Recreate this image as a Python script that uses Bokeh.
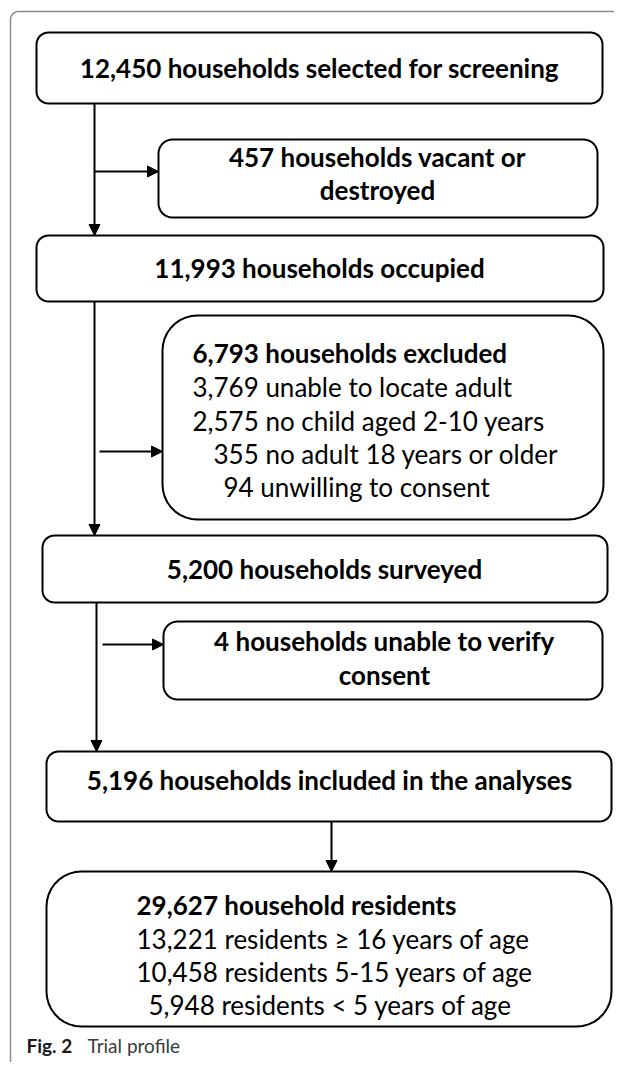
import numpy as np
from bokeh.plotting import figure
from bokeh.models import Range1d, ColumnDataSource, Arrow, NormalHead
from bokeh.core.properties import value
from bokeh.embed import file_html
from bokeh.resources import INLINE

# ---- content (text of the flow chart) ----
box_titles = [
    "12,450 households selected for screening",
    "457 households vacant or",
    "destroyed",
    "11,993 households occupied",
    "6,793 households excluded",
    "5,200 households surveyed",
    "4 households unable to verify",
    "consent",
    "5,196 households included in the analyses",
    "29,627 household residents",
]
excluded_lines = [
    "3,769 unable to locate adult",
    "2,575 no child aged 2-10 years",
    "355 no adult 18 years or older",
    "94 unwilling to consent",
]
resident_lines = [
    "13,221 residents \u2265 16 years of age",
    "10,458 residents 5-15 years of age",
    "5,948 residents < 5 years of age",
]
caption_bold = "Fig. 2"
caption_text = "Trial profile"

FONT = value("Lato")
W, H = 614, 1062
X0, Y0 = 1, 1

p = figure(width=W, height=H, output_backend="svg", toolbar_location=None,
           x_range=Range1d(X0, X0 + W), y_range=Range1d(Y0 + H, Y0),
           min_border=0, background_fill_color="white", border_fill_color="white")
p.axis.visible = False
p.grid.visible = False
p.outline_line_color = None

# ---- layout: boxes (left, right, top, bottom, corner radius) ----
boxes = [
    (37, 603, 33, 104, 12),
    (159, 598, 140, 218, 14),
    (37, 604, 236, 302, 12),
    (163, 604, 316, 520, 35),
    (43, 608, 536, 603, 12),
    (164, 603, 622, 700, 14),
    (47, 612, 752, 822, 12),
    (47, 612, 872, 1027, 35),
]


def rrect(l, r, t, b, rad, n=10):
    xs, ys = [], []
    for cx, cy, a0 in [(r - rad, t + rad, -90), (r - rad, b - rad, 0),
                       (l + rad, b - rad, 90), (l + rad, t + rad, 180)]:
        th = np.radians(np.linspace(a0, a0 + 90, n))
        xs.extend(cx + rad * np.cos(th))
        ys.extend(cy + rad * np.sin(th))
    return xs, ys


bx, by = zip(*[rrect(*b) for b in boxes])
p.patches(list(bx), list(by), fill_color="white", line_color="black", line_width=2)

# outer frame (gray)
fr = 8
th = np.radians(np.linspace(180, 270, 10))
fx = list(11 + fr + fr * np.cos(th))
fy = list(12 + fr + fr * np.sin(th))
p.line([11] + fx + [X0 + W], [Y0 + H] + fy + [12], line_color="#8c8c8c", line_width=1.5)

# connectors: main trunks and side branches
lines_src = ColumnDataSource(dict(
    x0=[95, 95, 97, 95, 100, 103, 332],
    y0=[104, 302, 603, 172, 452, 645, 822],
    x1=[95, 95, 97, 159, 163, 164, 332],
    y1=[236, 536, 752, 172, 452, 645, 872],
))
p.add_layout(Arrow(source=lines_src, x_start="x0", y_start="y0", x_end="x1", y_end="y1",
                   line_color="black", line_width=2,
                   end=NormalHead(size=11, fill_color="black", line_color="black", line_width=1)))

FS = "26px"

# centered bold titles
cx = [320, 378, 378, 320, 325, 385, 385, 330]
cy = [68, 157, 190, 268, 569, 641, 675, 780]
ctext = [box_titles[i] for i in [0, 1, 2, 3, 5, 6, 7, 8]]
p.text(cx, cy, text=ctext, text_font=FONT, text_font_style="bold", text_font_size=FS,
       text_align="center", text_baseline="middle", text_color="black")

# left-aligned bold headers
p.text([193, 137], [353, 905], text=[box_titles[4], box_titles[9]], text_font=FONT,
       text_font_style="bold", text_font_size=FS, text_align="left",
       text_baseline="middle", text_color="black")

# normal lines
p.text([193, 193, 214, 224], [387, 421, 454, 487], text=excluded_lines, text_font=FONT,
       text_font_size=FS, text_align="left", text_baseline="middle", text_color="black")
p.text([137, 137, 149], [939, 972, 1005], text=resident_lines, text_font=FONT,
       text_font_size=FS, text_align="left", text_baseline="middle", text_color="black")

# caption
p.text([27], [1046], text=[caption_bold], text_font=FONT, text_font_style="bold",
       text_font_size="19px", text_align="left", text_baseline="middle", text_color="#1a1a1a")
p.text([88], [1046], text=[caption_text], text_font=FONT, text_font_size="19px",
       text_align="left", text_baseline="middle", text_color="#3a3a3a")

open("out.html", "w").write(file_html(p, INLINE))
